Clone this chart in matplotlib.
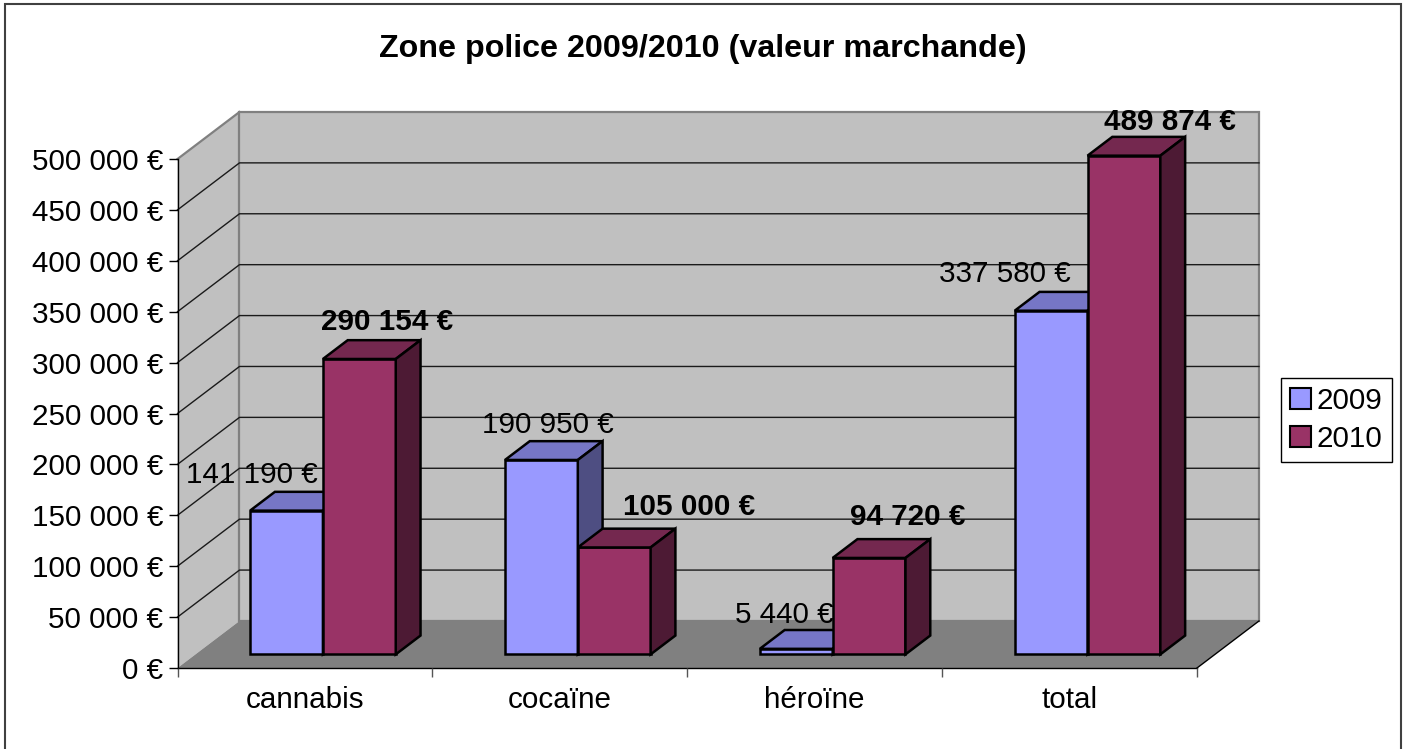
import matplotlib
matplotlib.use('Agg')
import matplotlib.pyplot as plt
from matplotlib.patches import Polygon, Rectangle, Patch
import numpy as np

# données
categories = ['cannabis', 'cocaïne', 'héroïne', 'total']
years = ['2009', '2010']
val_2009 = [141190, 190950, 5440, 337580]
val_2010 = [290154, 105000, 94720, 489874]
y_ticks = list(range(0, 500001, 50000))

# couleurs : face avant / dessus / côté
face_colors = ['#9999FF', '#993366']
top_colors = ['#7676C6', '#74284F']
side_colors = ['#4E4E82', '#4D1A34']

# décalage des étiquettes en pixels (placées à la main dans l'original)
label_off = [[(-35, 36), (6, 35), (-12, 34), (-46, 37)],
             [(28, 37), (75, 40), (39, 41), (46, 34)]]


def euro(v):
    return '{:,}'.format(v).replace(',', ' ') + ' €'


plt.rcParams['font.family'] = ['Liberation Sans', 'DejaVu Sans']
fs = 21.3

fig = plt.figure(figsize=(14.06, 7.49), dpi=100)
ax = fig.add_axes([0.12625, 0.10814, 0.7251, 0.67957])
ax.set_xlim(0, 4)
ax.set_ylim(0, 500000)

DX = 0.2432   # profondeur (catégories)
DY = 46200    # profondeur (valeurs)
f0 = 0.29     # position avant des barres dans la profondeur
fd = 0.40     # épaisseur des barres
bw = 0.2857
start = 0.2143
ymax = y_ticks[-1]

# murs et sol
ax.add_patch(Polygon([(0, 0), (DX, DY), (DX, ymax + DY), (0, ymax)], closed=True,
                     fc='#C0C0C0', ec='none', clip_on=False, zorder=0.5))
ax.add_patch(Rectangle((DX, DY), 4, ymax, fc='#C0C0C0', ec='#808080', lw=1.6,
                       clip_on=False, zorder=0.5))
ax.plot([0, DX], [ymax, ymax + DY], color='#808080', lw=1.6, clip_on=False, zorder=0.6)
for v in y_ticks[1:-1]:
    ax.plot([0, DX, 4 + DX], [v, v + DY, v + DY], color='#1a1a1a', lw=1.0,
            clip_on=False, zorder=0.8)
ax.add_patch(Polygon([(0, 0), (4, 0), (4 + DX, DY), (DX, DY)], closed=True,
                     fc='#808080', ec='none', clip_on=False, zorder=1))
ax.plot([4, 4 + DX], [0, DY], color='black', lw=1, clip_on=False, zorder=1.1)

# barres 3D
z = 2
for i in range(len(categories)):
    for j, vals in enumerate([val_2009, val_2010]):
        v = vals[i]
        x0 = i + start + j * bw + f0 * DX
        y0 = f0 * DY
        ax.bar(x0, v, bw, bottom=y0, align='edge', color=face_colors[j],
               edgecolor='black', lw=1.8, zorder=z, clip_on=False)
        ddx, ddy = fd * DX, fd * DY
        top = [(x0, y0 + v), (x0 + bw, y0 + v), (x0 + bw + ddx, y0 + v + ddy), (x0 + ddx, y0 + v + ddy)]
        side = [(x0 + bw, y0), (x0 + bw + ddx, y0 + ddy), (x0 + bw + ddx, y0 + v + ddy), (x0 + bw, y0 + v)]
        ax.add_patch(Polygon(top, closed=True, fc=top_colors[j], ec='black', lw=1.8,
                             clip_on=False, zorder=z, joinstyle='miter'))
        ax.add_patch(Polygon(side, closed=True, fc=side_colors[j], ec='black', lw=1.8,
                             clip_on=False, zorder=z, joinstyle='miter'))
        ax.annotate(euro(v), xy=(x0 + bw / 2, y0 + v), xytext=label_off[j][i],
                    textcoords='offset pixels', ha='center', va='center', fontsize=fs,
                    fontweight='bold' if j == 1 else 'normal', zorder=10,
                    annotation_clip=False)

# axes
for s in ['top', 'right']:
    ax.spines[s].set_visible(False)
ax.spines['left'].set_linewidth(1)
ax.spines['bottom'].set_linewidth(1)
ax.spines['left'].set_zorder(1.2)
ax.spines['bottom'].set_zorder(1.2)
ax.set_yticks(y_ticks)
ax.set_yticklabels([euro(v) for v in y_ticks], fontsize=fs)
ax.tick_params(axis='y', direction='out', length=6.5, width=1, pad=3.6)
ax.set_xticks(range(5))
ax.set_xticklabels([])
ax.tick_params(axis='x', which='major', direction='out', length=6.5, width=1, color='#555555')
ax.set_xticks(np.arange(len(categories)) + 0.5, minor=True)
ax.set_xticklabels(categories, minor=True, fontsize=fs)
ax.tick_params(axis='x', which='minor', length=0, pad=13)
ax.patch.set_visible(False)

fig.text(0.5, 1 - 49 / 749, 'Zone police 2009/2010 (valeur marchande)', ha='center',
         va='center', fontsize=23.2, fontweight='bold')

handles = [Patch(facecolor=face_colors[k], edgecolor='black', lw=1.5) for k in range(2)]
leg = fig.legend(handles, years, loc='center', bbox_to_anchor=(0.9506, 0.4393),
                 bbox_transform=fig.transFigure, fontsize=fs, frameon=True, fancybox=False,
                 edgecolor='black', framealpha=1, handlelength=0.7, handleheight=0.7,
                 handletextpad=0.2, borderpad=0.3, labelspacing=0.35, borderaxespad=0)
leg.get_frame().set_linewidth(1)

fig.add_artist(Rectangle((5 / 1406, -0.01), 1396 / 1406, 1 - 4 / 749 + 0.01,
                         transform=fig.transFigure, fill=False, ec='#404040', lw=1.5))

fig.savefig('out.png', dpi=100)
